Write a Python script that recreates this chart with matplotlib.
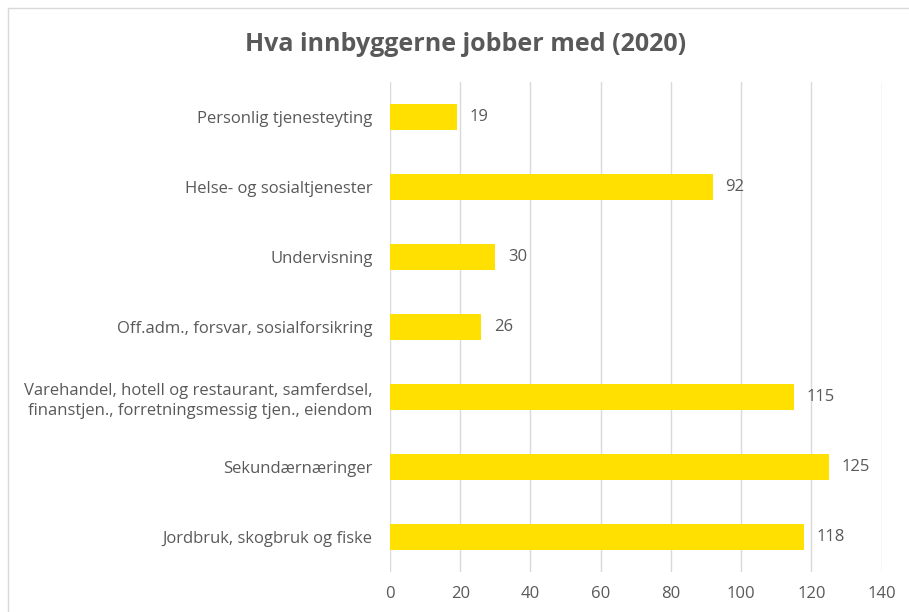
import matplotlib.pyplot as plt
from matplotlib.lines import Line2D

# data, top to bottom as shown
categories = [
    "Personlig tjenesteyting",
    "Helse- og sosialtjenester",
    "Undervisning",
    "Off.adm., forsvar, sosialforsikring",
    "Varehandel, hotell og restaurant, samferdsel,\nfinanstjen., forretningsmessig tjen., eiendom",
    "Sekundærnæringer",
    "Jordbruk, skogbruk og fiske",
]
values = [19, 92, 30, 26, 115, 125, 118]
x_ticks = [0, 20, 40, 60, 80, 100, 120, 140]

text_color = "#595959"
bar_color = "#FFE000"
grid_color = "#D9D9D9"

plt.rcParams["font.family"] = ["Open Sans", "DejaVu Sans"]

fig = plt.figure(figsize=(9.09, 6.12), dpi=100)
ax = fig.add_axes([0.429, 0.0654, 0.541, 0.8006])

pos = list(range(len(categories)))
ax.barh(pos, values, height=0.37, color=bar_color, zorder=3)
ax.set_ylim(len(categories) - 0.5, -0.5)
ax.set_xlim(0, 140)
ax.set_xticks(x_ticks)
ax.set_yticks(pos)
ax.set_yticklabels(categories, fontsize=12, color=text_color, linespacing=1.3)
ax.tick_params(axis="x", labelsize=12, labelcolor=text_color, length=0, pad=10)
ax.tick_params(axis="y", length=0, pad=12.5)
ax.grid(axis="x", color=grid_color, linewidth=1, zorder=0)
for s in ax.spines.values():
    s.set_visible(False)

# value labels next to bars
for p, v in zip(pos, values):
    ax.annotate(str(v), (v, p), xytext=(9, 0), textcoords="offset points",
                va="center", ha="left", fontsize=12, color=text_color)

fig.text(0.512, 0.927, "Hva innbyggerne jobber med (2020)", ha="center", va="center",
         fontsize=18, fontweight="bold", color=text_color)

# chart frame (only left and top edges are visible in the crop)
fig.add_artist(Line2D([8 / 909, 8 / 909], [0, 1 - 8 / 612], color=grid_color, lw=1))
fig.add_artist(Line2D([8 / 909, 1], [1 - 8 / 612, 1 - 8 / 612], color=grid_color, lw=1))

fig.savefig("out.png", dpi=100)
